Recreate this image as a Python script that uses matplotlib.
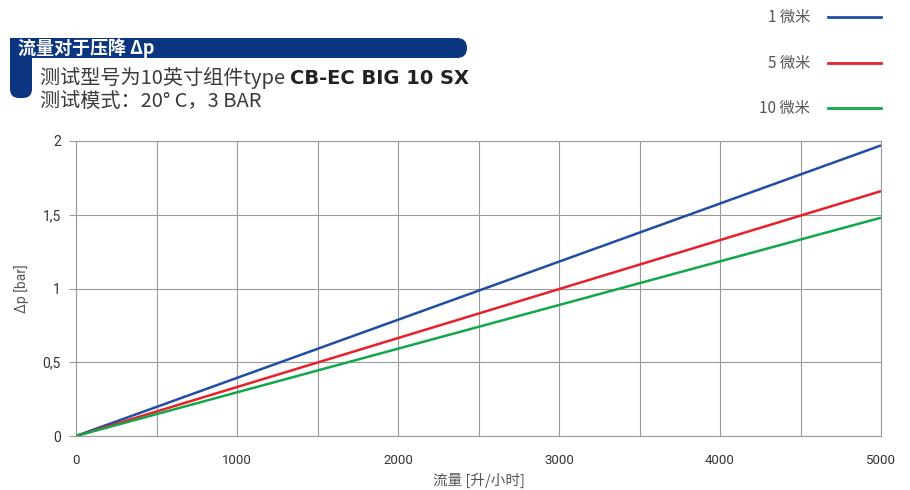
import matplotlib
matplotlib.use("Agg")
import matplotlib.pyplot as plt
from matplotlib.patches import FancyBboxPatch, Rectangle

plt.rcParams['font.family'] = ['Noto Sans CJK SC', 'DejaVu Sans']

flow = [0, 5000]
dp_1um = [0, 1.97]
dp_5um = [0, 1.66]
dp_10um = [0, 1.48]
series_labels = ["1 微米", "5 微米", "10 微米"]
colors = ["#1f4ea3", "#e8202a", "#12a84a"]
xticks = [0, 1000, 2000, 3000, 4000, 5000]
yticks = [0, 0.5, 1, 1.5, 2]
ytick_labels = ["0", "0,5", "1", "1,5", "2"]

W, H = 910, 490
fig = plt.figure(figsize=(9.1, 4.9), dpi=100)

# overlay for header graphics (pixel coords)
ov = fig.add_axes([0, 0, 1, 1], zorder=0)
ov.set_xlim(0, W)
ov.set_ylim(H, 0)
ov.axis('off')
navy = "#0b3580"
ov.add_patch(FancyBboxPatch((10, 38), 457, 20, boxstyle="round,pad=0,rounding_size=10",
                            fc=navy, ec='none'))
ov.add_patch(Rectangle((10, 38), 30, 20, fc=navy, ec='none'))
ov.add_patch(FancyBboxPatch((10, 38), 22, 60, boxstyle="round,pad=0,rounding_size=9",
                            fc=navy, ec='none'))
ov.add_patch(Rectangle((10, 38), 22, 30, fc=navy, ec='none'))
ov.text(18, 48.5, "流量对于压降 Δp", color='white', fontsize=13, fontweight='bold',
        va='center', ha='left')

txtcol = "#3a3a3a"
t1 = ov.text(40, 78, "测试型号为10英寸组件type ", color=txtcol, fontsize=14.5,
             va='center', ha='left')
renderer = fig.canvas.get_renderer()
bb = t1.get_window_extent(renderer=renderer)
x_end = bb.x1
ov.text(x_end, 78, "CB-EC BIG 10 SX", color="#222222", fontsize=14,
        fontweight='bold', va='center', ha='left',
        family=['DejaVu Sans'])
ov.text(40, 101, "测试模式：20° C，3 BAR", color=txtcol, fontsize=14.5,
        va='center', ha='left')

# legend
leg_y = [17, 63, 108]
for lab, c, yy in zip(series_labels, colors, leg_y):
    ov.text(810, yy, lab, color="#555555", fontsize=11, ha='right', va='center')
    ov.plot([828, 881], [yy, yy], color=c, lw=2)

# x axis title (placed in pixel coords)
ov.text(478.5, 480, "流量 [升/小时]", color="#555555", fontsize=10.5,
        ha='center', va='center')

# main axes
ax = fig.add_axes([76 / W, 1 - 436 / H, (881 - 76) / W, (436 - 141) / H], zorder=1)
ax.patch.set_alpha(0)
for y, c in zip([dp_1um, dp_5um, dp_10um], colors):
    ax.plot(flow, y, color=c, lw=1.8, solid_capstyle='butt', zorder=3)
ax.set_xlim(0, 5000)
ax.set_ylim(0, 2)
ax.set_xticks(range(0, 5001, 500), minor=False)
ax.set_xticklabels([str(v) if v in xticks else "" for v in range(0, 5001, 500)])
ax.set_yticks(yticks)
ax.set_yticklabels(ytick_labels)
gridc = "#9a9a9a"
ax.grid(True, color=gridc, lw=0.8)
for s in ax.spines.values():
    s.set_color(gridc)
    s.set_linewidth(0.8)
ax.tick_params(axis='x', length=0, pad=13, labelsize=9.5, labelcolor="#333333")
ax.tick_params(axis='y', length=5, color=gridc, pad=6, labelsize=10, labelcolor="#333333")
for lab in ax.get_xticklabels() + ax.get_yticklabels():
    lab.set_family(['Roboto', 'DejaVu Sans'])
ax.set_ylabel("Δp [bar]", color="#555555", fontsize=10, labelpad=10,
              family=['Roboto', 'DejaVu Sans'])

fig.savefig("out.png", dpi=100)
